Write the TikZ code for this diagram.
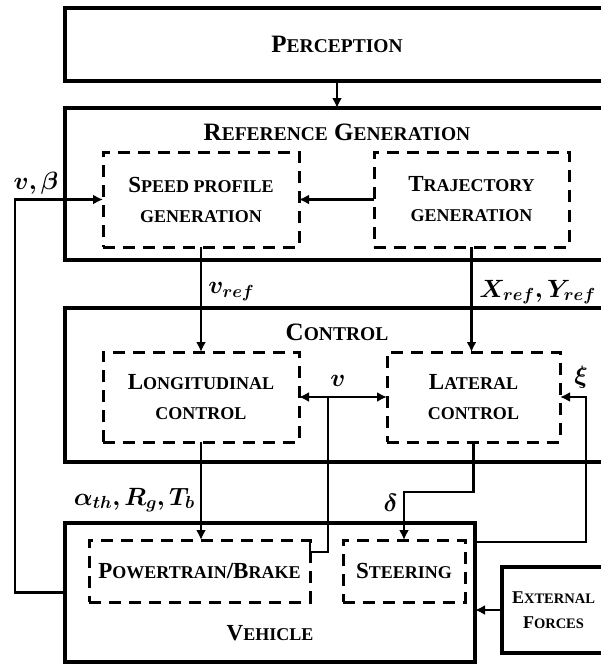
\RequirePackage{fix-cm}
\documentclass[tikz,border=0pt]{standalone}
\usepackage{fontspec}
\setmainfont{Liberation Serif}
\usepackage{bm}
\usetikzlibrary{arrows.meta, positioning}

% small capitals, made by hand
\newcommand{\tsm}[1]{{\fontsize{19.5}{22}\selectfont #1}}
\newcommand{\bsm}[1]{{\fontsize{18}{30}\selectfont #1}}
\newcommand{\esm}[1]{{\fontsize{14.5}{25}\selectfont #1}}

\begin{document}
\begin{tikzpicture}[
                x=1pt, y=-1pt,
                font=\bfseries,
                outer sep=0pt,
                bigbox/.style={rectangle, draw, line width=3.8pt, minimum width=544pt},
                subbox/.style={rectangle, draw, dash pattern=on 12pt off 8pt, line width=3pt, align=center, font=\fontsize{23}{30}\selectfont\bfseries},
                title/.style={font=\fontsize{25}{28}\selectfont\bfseries},
                sig/.style={font=\fontsize{25}{28}\selectfont},
                line/.style={line width=2.8pt},
                arrow/.style={line, -{Latex[length=10pt, width=10pt]}},
                dblarrow/.style={line, {Latex[length=10pt, width=10pt]}-{Latex[length=10pt, width=10pt]}}
            ]
            \useasboundingbox (0,0) rectangle (601,664);
            \clip (0,0) rectangle (601,664);

            \node (perc) [bigbox, title, minimum height=73pt] at (337,44.5) {P\tsm{ERCEPTION}};
            \node (refgen) [bigbox, minimum height=152pt] at (337,184) {};
            \node (rgtitle) [title] at (337,132) {R\tsm{EFERENCE} G\tsm{ENERATION}};
            \node (ctrl) [bigbox, minimum height=154pt] at (337,385) {};
            \node (cttitle) [title] at (337,332) {C\tsm{ONTROL}};
            \node (veh) [bigbox, minimum width=410pt, minimum height=139pt] at (270,592.5) {};
            \node (vehtitle) [title, font=\fontsize{23}{30}\selectfont\bfseries] at (270,633) {V\bsm{EHICLE}};

            \node (speed) [subbox, minimum width=196pt, minimum height=95pt] at (201,199.5) {S\bsm{PEED PROFILE}\\\bsm{GENERATION}};
            \node (traj) [subbox, minimum width=195pt, minimum height=95pt] at (471.5,199.5) {T\bsm{RAJECTORY}\\\bsm{GENERATION}};
            \node (long) [subbox, minimum width=196pt, minimum height=90pt] at (201,397) {L\bsm{ONGITUDINAL}\\\bsm{CONTROL}};
            \node (lat) [subbox, minimum width=173pt, minimum height=90pt] at (473.5,397) {L\bsm{ATERAL}\\\bsm{CONTROL}};
            \node (pt) [subbox, minimum width=221pt, minimum height=62pt] at (199.5,571) {P\bsm{OWERTRAIN}/B\bsm{RAKE}};
            \node (steer) [subbox, minimum width=122pt, minimum height=62pt] at (404,571) {S\bsm{TEERING}};
            \node (ext) [rectangle, draw, line width=3.3pt, minimum width=103pt, minimum height=86pt, align=center, font=\fontsize{18}{25}\selectfont\bfseries] at (553.5,610) {E\esm{XTERNAL}\\F\esm{ORCES}};

            \node (vbeta) [sig] at (36,183) {$\bm{v,\beta}$};
            \node (vref) [sig, anchor=west] at (205,292) {$\bm{v_{ref}}$};
            \node (xyref) [sig, anchor=west] at (476,292) {$\bm{X_{ref},Y_{ref}}$};
            \node (vlab) [sig] at (338,381) {$\bm{v}$};
            \node (xi) [sig] at (581,377) {$\bm{\xi}$};
            \node (ctrlin) [sig, anchor=east] at (198,500) {$\bm{\alpha_{th},R_g,T_b}$};
            \node (delta) [sig, anchor=east] at (401,503) {$\bm{\delta}$};
            \coordinate (vj) at (328,397);

            \draw [arrow] (perc) -- (refgen);
            \draw [arrow] (traj) -- (speed);
            \draw [arrow] (speed) -- (long);
            \draw [arrow] (traj.south) -- (traj.south |- lat.north);
            \draw [arrow] (long.south) -- (long.south |- pt.north);
            \draw [dblarrow] (long) -- (lat);
            \draw [line] (pt.north east) -- ++(0,12) -| (vj);
            \draw [arrow] (lat.south) -- ++(0,50) -| (steer.north);
            \draw [arrow] ([yshift=-19pt]veh.north east) -| ([xshift=26pt]lat.east) -- (lat.east);
            \draw [arrow] (veh.west) -| ([xshift=-88pt]speed.west) -- (speed.west);
            \draw [arrow] (ext) -- (ext.west -| veh.east);
\end{tikzpicture}
\end{document}
